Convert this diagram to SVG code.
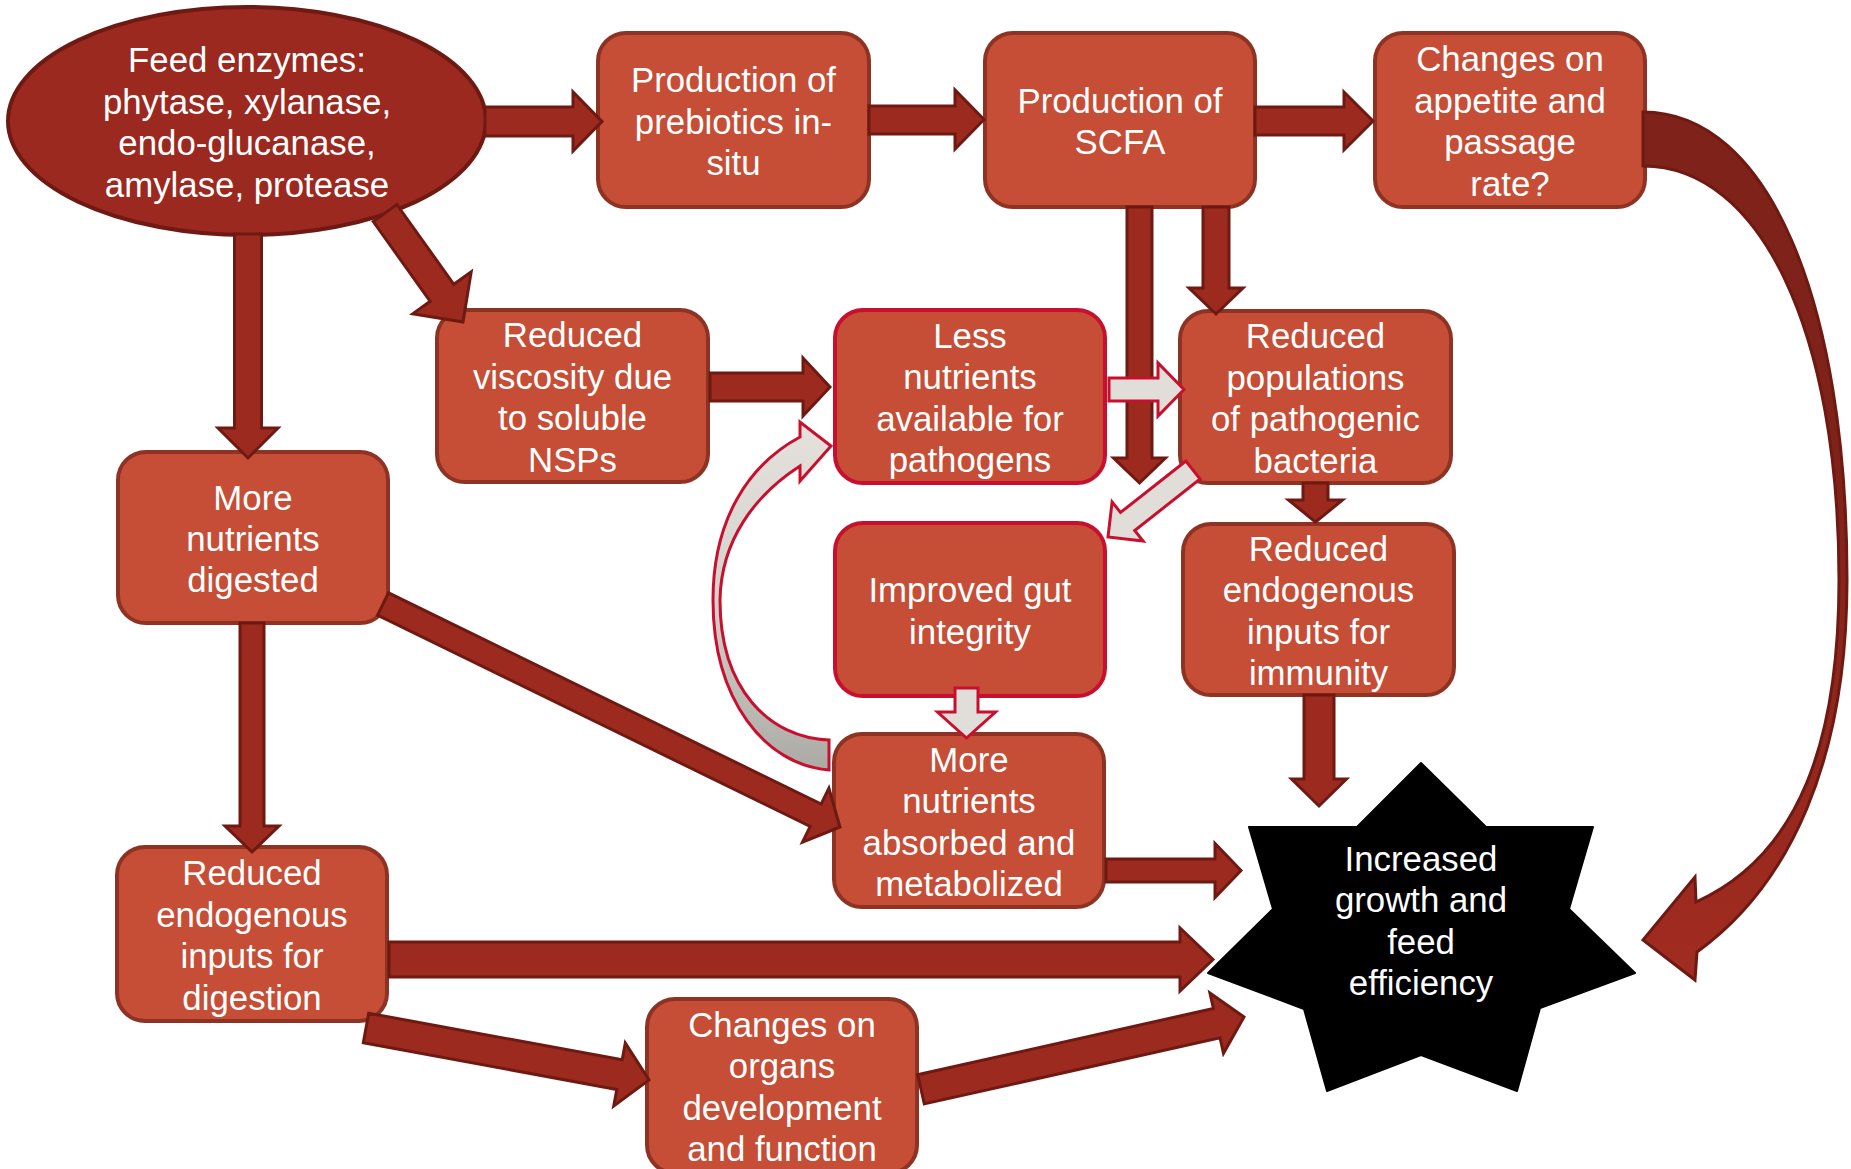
<svg xmlns="http://www.w3.org/2000/svg" width="1851" height="1169" viewBox="0 0 1851 1169">
<defs>
<style>
.box{fill:#C64E36;stroke:#8E3323;stroke-width:4}
.box2{fill:#C64E36;stroke:#C8102E;stroke-width:4}
.ell{fill:#9B2920;stroke:#6E1A13;stroke-width:4}
.arr{fill:#9C2A1F;stroke:#6E1A13;stroke-width:3;stroke-linejoin:miter}
.warr{fill:#E1DED9;stroke:#C8102E;stroke-width:3;stroke-linejoin:miter}
.t{font-family:"Liberation Sans",Arial,sans-serif;font-size:34.8px;fill:#FFFFFF;text-anchor:middle;transform:translate(0px,2px)}
</style>
<linearGradient id="gGrey" x1="0" y1="430" x2="0" y2="770" gradientUnits="userSpaceOnUse">
<stop offset="0" stop-color="#E4E1DC"/><stop offset="0.5" stop-color="#D4D2CD"/><stop offset="1" stop-color="#ABAAA4"/>
</linearGradient>
<linearGradient id="gBig" x1="0" y1="450" x2="0" y2="950" gradientUnits="userSpaceOnUse">
<stop offset="0" stop-color="#7F2219"/><stop offset="1" stop-color="#A02B20"/>
</linearGradient>
</defs>
<rect width="1851" height="1169" fill="#FFFFFF"/>

<g id="nodes">
<g id="n-enzymes"><ellipse class="ell" cx="247" cy="121" rx="239" ry="114"/>
<text class="t" x="247" y="70.4"><tspan x="247">Feed enzymes:</tspan><tspan x="247" dy="41.4">phytase, xylanase,</tspan><tspan x="247" dy="41.4">endo-glucanase,</tspan><tspan x="247" dy="41.4">amylase, protease</tspan></text></g>
<g id="n-prebiotics"><rect class="box" x="598" y="33" width="271" height="174" rx="28"/>
<text class="t" x="733.5" y="90.1"><tspan x="733.5">Production of</tspan><tspan x="733.5" dy="41.4">prebiotics in-</tspan><tspan x="733.5" dy="41.4">situ</tspan></text></g>
<g id="n-scfa"><rect class="box" x="985" y="33" width="270" height="174" rx="28"/>
<text class="t" x="1120" y="110.8"><tspan x="1120">Production of</tspan><tspan x="1120" dy="41.4">SCFA</tspan></text></g>
<g id="n-appetite"><rect class="box" x="1375" y="33" width="270" height="174" rx="28"/>
<text class="t" x="1510" y="69.4"><tspan x="1510">Changes on</tspan><tspan x="1510" dy="41.4">appetite and</tspan><tspan x="1510" dy="41.4">passage</tspan><tspan x="1510" dy="41.4">rate?</tspan></text></g>
<g id="n-viscosity"><rect class="box" x="437" y="310" width="271" height="172" rx="28"/>
<text class="t" x="572.5" y="345.4"><tspan x="572.5">Reduced</tspan><tspan x="572.5" dy="41.4">viscosity due</tspan><tspan x="572.5" dy="41.4">to soluble</tspan><tspan x="572.5" dy="41.4">NSPs</tspan></text></g>
<g id="n-less"><rect class="box2" x="835" y="310" width="270" height="173" rx="28"/>
<text class="t" x="970" y="345.9"><tspan x="970">Less</tspan><tspan x="970" dy="41.4">nutrients</tspan><tspan x="970" dy="41.4">available for</tspan><tspan x="970" dy="41.4">pathogens</tspan></text></g>
<g id="n-populations"><rect class="box" x="1180" y="311" width="271" height="172" rx="28"/>
<text class="t" x="1315.5" y="346.4"><tspan x="1315.5">Reduced</tspan><tspan x="1315.5" dy="41.4">populations</tspan><tspan x="1315.5" dy="41.4">of pathogenic</tspan><tspan x="1315.5" dy="41.4">bacteria</tspan></text></g>
<g id="n-digested"><rect class="box" x="118" y="452" width="270" height="171" rx="28"/>
<text class="t" x="253" y="507.6"><tspan x="253">More</tspan><tspan x="253" dy="41.4">nutrients</tspan><tspan x="253" dy="41.4">digested</tspan></text></g>
<g id="n-gut"><rect class="box2" x="835" y="523" width="270" height="173" rx="28"/>
<text class="t" x="970" y="600.3"><tspan x="970">Improved gut</tspan><tspan x="970" dy="41.4">integrity</tspan></text></g>
<g id="n-immunity"><rect class="box" x="1183" y="524" width="271" height="171" rx="28"/>
<text class="t" x="1318.5" y="558.9"><tspan x="1318.5">Reduced</tspan><tspan x="1318.5" dy="41.4">endogenous</tspan><tspan x="1318.5" dy="41.4">inputs for</tspan><tspan x="1318.5" dy="41.4">immunity</tspan></text></g>
<g id="n-absorbed"><rect class="box" x="834" y="734" width="270" height="173" rx="28"/>
<text class="t" x="969" y="769.9"><tspan x="969">More</tspan><tspan x="969" dy="41.4">nutrients</tspan><tspan x="969" dy="41.4">absorbed and</tspan><tspan x="969" dy="41.4">metabolized</tspan></text></g>
<g id="n-digestion"><rect class="box" x="117" y="847" width="270" height="174" rx="28"/>
<text class="t" x="252" y="883.4"><tspan x="252">Reduced</tspan><tspan x="252" dy="41.4">endogenous</tspan><tspan x="252" dy="41.4">inputs for</tspan><tspan x="252" dy="41.4">digestion</tspan></text></g>
<g id="n-organs"><rect class="box" x="647" y="999" width="270" height="174" rx="28"/>
<text class="t" x="782" y="1034.9"><tspan x="782">Changes on</tspan><tspan x="782" dy="41.4">organs</tspan><tspan x="782" dy="41.4">development</tspan><tspan x="782" dy="41.4">and function</tspan></text></g>
<g id="n-growth"><polygon points="1421,763 1486,827 1593,827 1569,909 1635,973 1540,1008 1517,1091 1421,1055 1327,1091 1304,1009 1208,973 1273,909 1249,827 1357,827" fill="#000000" stroke="#000000" stroke-width="2" stroke-linejoin="round"/>
<text class="t" x="1421" y="869"><tspan x="1421">Increased</tspan><tspan x="1421" dy="41.4">growth and</tspan><tspan x="1421" dy="41.4">feed</tspan><tspan x="1421" dy="41.4">efficiency</tspan></text></g>
</g>

<g id="connectors">
<polygon class="arr" points="485,107 573,107 573,92 602,121.5 573,151 573,136 485,136"/>
<polygon class="arr" points="869,106 955,106 955,90 984,119.5 955,149 955,134 869,134"/>
<polygon class="arr" points="1255,107 1344,107 1344,92 1373,121 1344,150 1344,135 1255,135"/>
<polygon class="arr" points="710,373 803,373 803,358 830,387 803,416 803,401 710,401"/>
<polygon class="arr" points="1106,859 1215,859 1215,843.5 1241,870.5 1215,897.5 1215,882 1106,882"/>
<polygon class="arr" points="389,942 1180,942 1180,928 1213,959.5 1180,991 1180,977 389,977"/>
<polygon class="arr" points="234.5,234 234.5,428 218,428 248,458 278,428 261.5,428 261.5,234"/>
<polygon class="arr" points="240,623 240,826 225,826 252,852 279,826 264,826 264,623"/>
<polygon class="arr" points="1127,207 1127,458 1113.5,458 1139.5,483 1165.5,458 1152,458 1152,207"/>
<polygon class="arr" points="1203,207 1203,288 1189,288 1216,314 1243,288 1229,288 1229,207"/>
<polygon class="arr" points="1303,483 1303,500 1288.5,500 1315.5,522 1342.5,500 1328,500 1328,483"/>
<polygon class="arr" points="1304,695 1304,779 1291.5,779 1319,806 1346.5,779 1334,779 1334,695"/>
<polygon class="arr" points="373.2,221.5 430.2,301.3 412.8,313.8 463,322 471.2,271.8 453.8,284.3 396.8,204.5"/>
<polygon class="arr" points="377.5,615.2 810.2,826.4 802.5,842.2 840,827 828.9,788.2 821.2,804 388.5,592.8"/>
<polygon class="arr" points="363.3,1042.8 616.8,1089.4 613.7,1106.1 649,1080 625.3,1043.1 622.2,1059.8 368.7,1013.2"/>
<polygon class="arr" points="924.3,1103.9 1220,1037.7 1223.5,1053.3 1244,1017 1209.9,992.9 1213.4,1008.5 917.7,1074.7"/>
<path class="arr" style="fill:url(#gBig)" d="M1643,112 C1768,112 1847,300 1847,580 C1847,760 1790,885 1697,952 L1695,980 L1643,940 L1695,877 L1696,902 C1800,855 1839,740 1839,580 C1839,330 1760,166 1643,166 Z"/>
<polygon class="warr" points="1109,378 1158,378 1158,363 1184,389.5 1158,416 1158,401 1109,401"/>
<polygon class="warr" points="955,688 955,712 937.5,712 966.5,738 995.5,712 978,712 978,688"/>
<polygon class="warr" points="1185.9,461 1120.5,512.5 1112.1,501.9 1108,537 1143.1,541.1 1134.7,530.5 1200.1,479"/>
<path class="warr" style="fill:url(#gGrey)" d="M829,770 C765,765 713,700 713,600 C713,520 748,465 800,437 L800,422 L831,446 L800,481 L800,466 C755,495 721,540 720,600 C720,690 770,738 829,740 Z"/>
</g>
</svg>
